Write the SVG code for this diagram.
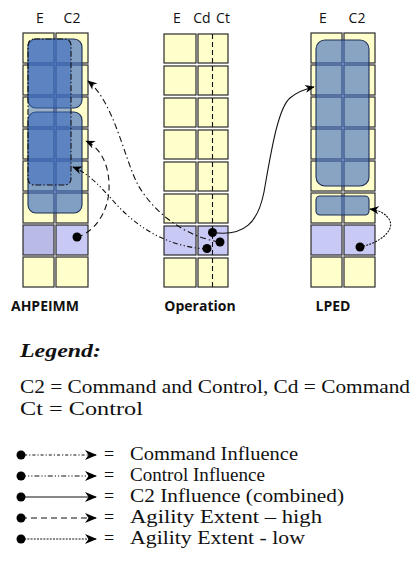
<svg xmlns="http://www.w3.org/2000/svg" width="414" height="564" viewBox="0 0 414 564">
  <style>
    .cell { fill: #ffffcc; stroke: #2b2b2b; stroke-width: 1.2; }
    .lav { fill: #c9c9f5; stroke: #2b2b2b; stroke-width: 1.2; }
    .zone { fill: #3a68bd; fill-opacity: 0.64; stroke: #1e2f55; stroke-width: 1.1; }
    .zone-dd { fill: #3a68bd; fill-opacity: 0.5; stroke: #111; stroke-width: 1.1; stroke-dasharray: 6 2 1.5 2; }
    .hdr { font-family: "Open Sans", "Liberation Sans", sans-serif; font-size: 14px; fill: #111; text-anchor: middle; }
    .cap { font-family: "Open Sans", "Liberation Sans", sans-serif; font-size: 14px; font-weight: bold; fill: #111; text-anchor: middle; }
    .leg { font-family: "Liberation Serif", "Times New Roman", serif; font-size: 18px; fill: #111; }
    .link { fill: none; stroke: #111; stroke-width: 1.1; }
    .cmd { stroke-dasharray: 1.2 2 3 2; }
    .ctl { stroke-dasharray: 5 2 1.2 2 1.2 2; }
    .dd { stroke-dasharray: 6 3 1.5 3; }
    .ddd { stroke-dasharray: 5 2.5 1.2 2.5 1.2 2.5; }
    .high { stroke-dasharray: 6 4; }
    .low { stroke-dasharray: 2 1.2; }
    .dot { fill: #000; }
  </style>
  <defs>
    <marker id="arrow" viewBox="0 0 12 10" refX="11" refY="5" markerWidth="13" markerHeight="10" markerUnits="userSpaceOnUse" orient="auto">
      <path d="M0,0 L12,5 L0,10 L3.5,5 z" fill="#000"/>
    </marker>
    <marker id="arrow-s" viewBox="0 0 12 10" refX="11" refY="5" markerWidth="10" markerHeight="8" markerUnits="userSpaceOnUse" orient="auto">
      <path d="M0,0 L12,5 L0,10 L3.5,5 z" fill="#000"/>
    </marker>
  </defs>

  <rect width="414" height="564" fill="#fff"/>

  <!-- AHPEIMM column -->
  <g id="ahpeimm">
    <text class="hdr" x="40" y="23">E</text>
    <text class="hdr" x="72" y="23">C2</text>
    <rect class="cell" x="23" y="33" width="31" height="30"/><rect class="cell" x="56" y="33" width="32" height="30"/>
    <rect class="cell" x="23" y="65" width="31" height="30"/><rect class="cell" x="56" y="65" width="32" height="30"/>
    <rect class="cell" x="23" y="97" width="31" height="30"/><rect class="cell" x="56" y="97" width="32" height="30"/>
    <rect class="cell" x="23" y="129" width="31" height="30"/><rect class="cell" x="56" y="129" width="32" height="30"/>
    <rect class="cell" x="23" y="161" width="31" height="30"/><rect class="cell" x="56" y="161" width="32" height="30"/>
    <rect class="cell" x="23" y="193" width="31" height="30"/><rect class="cell" x="56" y="193" width="32" height="30"/>
    <rect class="lav" x="23" y="225" width="31" height="30" style="fill:#babae6"/><rect class="lav" x="56" y="225" width="32" height="30"/>
    <rect class="cell" x="23" y="257" width="31" height="30"/><rect class="cell" x="56" y="257" width="32" height="30"/>
    <rect class="zone" x="28" y="39" width="54" height="69" rx="8"/>
    <rect class="zone" x="28" y="112" width="54" height="101" rx="8"/>
    <rect class="zone-dd" x="28" y="39" width="43" height="146" rx="6"/>
    <circle class="dot" cx="77" cy="237" r="4.5"/>
    <text class="cap" x="45" y="311">AHPEIMM</text>
  </g>

  <!-- Operation column -->
  <g id="operation">
    <text class="hdr" x="177" y="23">E</text>
    <text class="hdr" x="202" y="23">Cd</text>
    <text class="hdr" x="223" y="23">Ct</text>
    <rect class="cell" x="164" y="34" width="32" height="29"/><rect class="cell" x="198" y="34" width="30" height="29"/>
    <rect class="cell" x="164" y="66" width="32" height="29"/><rect class="cell" x="198" y="66" width="30" height="29"/>
    <rect class="cell" x="164" y="98" width="32" height="29"/><rect class="cell" x="198" y="98" width="30" height="29"/>
    <rect class="cell" x="164" y="130" width="32" height="29"/><rect class="cell" x="198" y="130" width="30" height="29"/>
    <rect class="cell" x="164" y="162" width="32" height="29"/><rect class="cell" x="198" y="162" width="30" height="29"/>
    <rect class="cell" x="164" y="194" width="32" height="29"/><rect class="cell" x="198" y="194" width="30" height="29"/>
    <rect class="lav" x="164" y="226" width="32" height="29"/><rect class="lav" x="198" y="226" width="30" height="29"/>
    <rect class="cell" x="164" y="258" width="32" height="29"/><rect class="cell" x="198" y="258" width="30" height="29"/>
    <line x1="212.5" y1="34" x2="212.5" y2="287" stroke="#111" stroke-width="1.1" stroke-dasharray="5 3"/>
    <circle class="dot" cx="212.5" cy="232.5" r="4.5"/>
    <circle class="dot" cx="220" cy="242" r="4.5"/>
    <circle class="dot" cx="207" cy="248.5" r="4.5"/>
    <text class="cap" x="200" y="311">Operation</text>
  </g>

  <!-- LPED column -->
  <g id="lped">
    <text class="hdr" x="323" y="23">E</text>
    <text class="hdr" x="357" y="23">C2</text>
    <rect class="cell" x="311" y="33" width="31" height="30"/><rect class="cell" x="344" y="33" width="31" height="30"/>
    <rect class="cell" x="311" y="65" width="31" height="30"/><rect class="cell" x="344" y="65" width="31" height="30"/>
    <rect class="cell" x="311" y="97" width="31" height="30"/><rect class="cell" x="344" y="97" width="31" height="30"/>
    <rect class="cell" x="311" y="129" width="31" height="30"/><rect class="cell" x="344" y="129" width="31" height="30"/>
    <rect class="cell" x="311" y="161" width="31" height="30"/><rect class="cell" x="344" y="161" width="31" height="30"/>
    <rect class="cell" x="311" y="193" width="31" height="30"/><rect class="cell" x="344" y="193" width="31" height="30"/>
    <rect class="lav" x="311" y="225" width="31" height="30"/><rect class="lav" x="344" y="225" width="31" height="30"/>
    <rect class="cell" x="311" y="257" width="31" height="30"/><rect class="cell" x="344" y="257" width="31" height="30"/>
    <rect class="zone" x="316" y="40" width="53" height="146" rx="9" style="fill-opacity:0.6"/>
    <rect class="zone" x="316" y="196" width="53" height="19" rx="4" style="fill-opacity:0.6"/>
    <circle class="dot" cx="360" cy="247" r="4.5"/>
    <text class="cap" x="333" y="311">LPED</text>
  </g>

  <!-- influence connectors -->
  <g id="connectors">
    <path class="link dd" d="M219,242 C185,236 155,214 138,185 C124,158 114,102 88,81" marker-end="url(#arrow-s)"/>
    <path class="link ddd" d="M207,249 C170,247 140,230 116,204 C100,186 88,173 73,167" marker-end="url(#arrow-s)"/>
    <path class="link high" d="M77,237 C95,232 108,212 109,190 C110,166 101,148 86,141" marker-end="url(#arrow-s)"/>
    <path class="link" d="M212.5,232.5 C245,237 258,222 264,192 C271,152 278,108 290,98 C297,92 305,89 314,87" marker-end="url(#arrow-s)"/>
    <path class="link low" d="M360,247 C380,243 396,230 389,219 C384,212 377,210 370,209" marker-end="url(#arrow-s)"/>
  </g>

  <!-- legend -->
  <g id="legend">
    <text class="leg" x="20" y="357" font-weight="bold" font-style="italic" font-size="20" textLength="81" lengthAdjust="spacingAndGlyphs">Legend:</text>
    <text class="leg" x="20" y="393" textLength="390" lengthAdjust="spacingAndGlyphs">C2 = Command and Control, Cd =  Command</text>
    <text class="leg" x="20" y="415" textLength="123" lengthAdjust="spacingAndGlyphs">Ct  = Control</text>

    <g id="key-command">
      <circle class="dot" cx="21" cy="455" r="4.5"/>
      <line class="link cmd" x1="21" y1="455" x2="96" y2="455" marker-end="url(#arrow)"/>
      <text class="leg" x="104" y="460">=</text>
      <text class="leg" x="130" y="460" textLength="168" lengthAdjust="spacingAndGlyphs">Command Influence</text>
    </g>
    <g id="key-control">
      <circle class="dot" cx="21" cy="476" r="4.5"/>
      <line class="link ctl" x1="21" y1="476" x2="96" y2="476" marker-end="url(#arrow)"/>
      <text class="leg" x="104" y="481">=</text>
      <text class="leg" x="130" y="481" textLength="135" lengthAdjust="spacingAndGlyphs">Control Influence</text>
    </g>
    <g id="key-c2">
      <circle class="dot" cx="21" cy="497" r="4.5"/>
      <line class="link" x1="21" y1="497" x2="96" y2="497" marker-end="url(#arrow)"/>
      <text class="leg" x="104" y="502">=</text>
      <text class="leg" x="130" y="502" textLength="214" lengthAdjust="spacingAndGlyphs">C2 Influence (combined)</text>
    </g>
    <g id="key-high">
      <circle class="dot" cx="21" cy="518" r="4.5"/>
      <line class="link high" x1="21" y1="518" x2="96" y2="518" marker-end="url(#arrow)"/>
      <text class="leg" x="104" y="523">=</text>
      <text class="leg" x="130" y="523" textLength="192" lengthAdjust="spacingAndGlyphs">Agility Extent – high</text>
    </g>
    <g id="key-low">
      <circle class="dot" cx="21" cy="539" r="4.5"/>
      <line class="link low" x1="21" y1="539" x2="96" y2="539" marker-end="url(#arrow)"/>
      <text class="leg" x="104" y="544">=</text>
      <text class="leg" x="130" y="544" textLength="175" lengthAdjust="spacingAndGlyphs">Agility Extent - low</text>
    </g>
  </g>
</svg>
